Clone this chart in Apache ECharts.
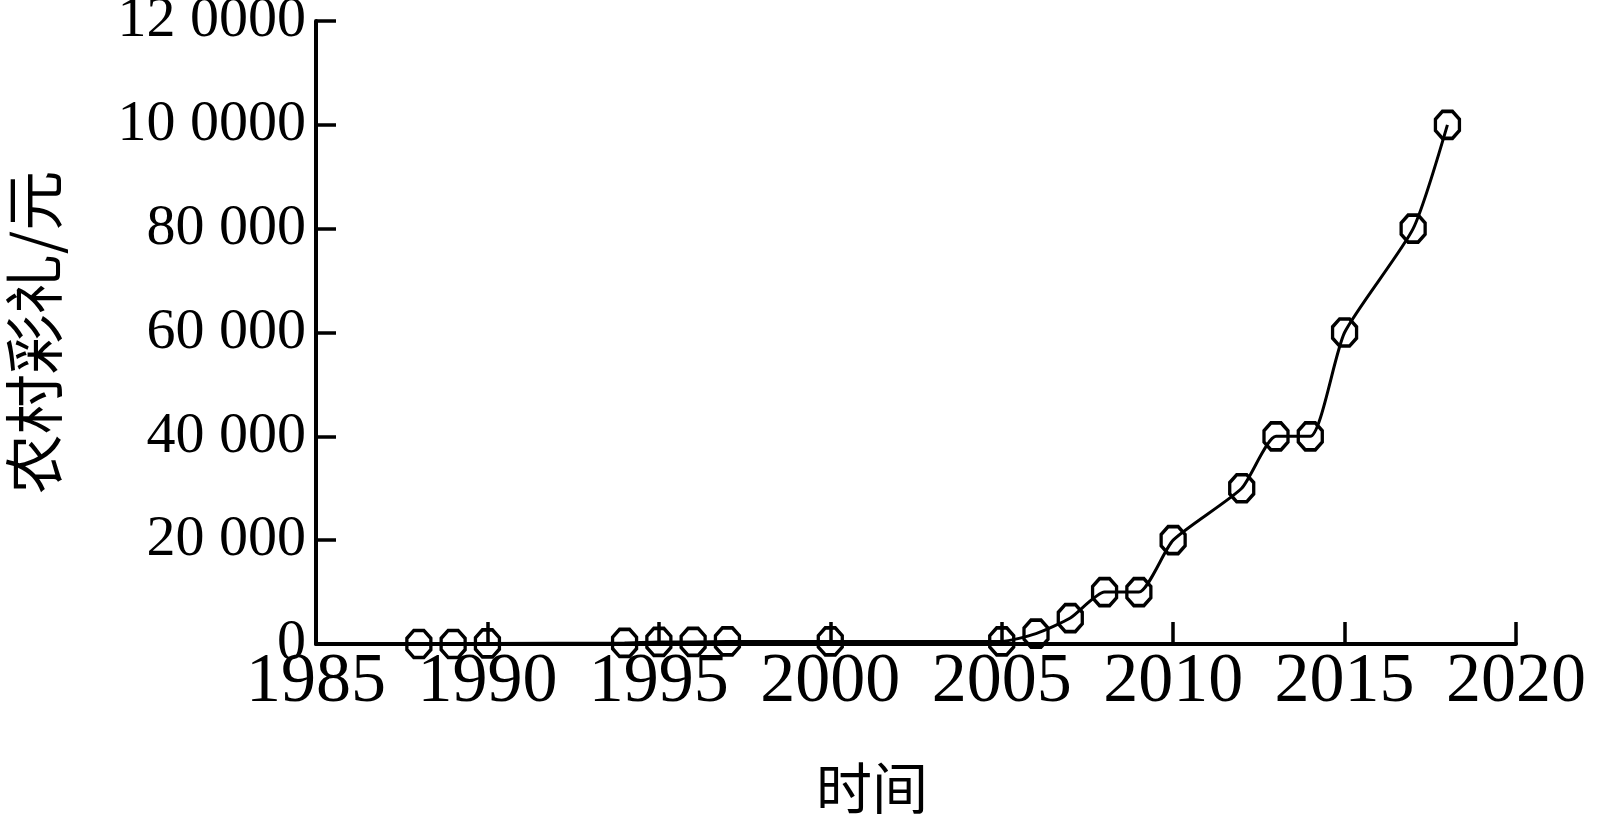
<!DOCTYPE html>
<html>
<head>
<meta charset="utf-8">
<script src="https://cdn.jsdelivr.net/npm/echarts@6/dist/echarts.min.js"></script>
<style>
    html, body { margin: 0; padding: 0; background: #fff; }
    #chart { width: 1608px; height: 820px; }
</style>
</head>
<body>
<div id="chart"></div>
<script>
// 年份与彩礼金额（元）
const years = [1988, 1989, 1990, 1994, 1995, 1996, 1997, 2000, 2005, 2006, 2007, 2008, 2009, 2010, 2012, 2013, 2014, 2015, 2017, 2018];
const brideMoney = [0, 0, 100, 200, 400, 400, 500, 500, 500, 2000, 5000, 10000, 10000, 20000, 30000, 40000, 40000, 60000, 80000, 100000];
// y 轴刻度文字（原图写法）
const yTickLabels = ["0", "20 000", "40 000", "60 000", "80 000", "10 0000", "12 0000"];

const serif = "'Liberation Serif', 'Times New Roman', serif";
const cjk = "'Noto Sans CJK SC', sans-serif";
const octagon = "path://M29 0L71 0L100 29L100 71L71 100L29 100L0 71L0 29Z";

const myChart = echarts.init(document.getElementById("chart"));

const option = {
    backgroundColor: "#fff",
    animation: false,
    grid: {
        left: 316,
        right: 92,
        top: 21,
        bottom: 176,
        containLabel: false,
        outerBoundsMode: "none",
    },
    xAxis: {
        type: "value",
        min: 1985,
        max: 2020,
        interval: 5,
        name: "时间",
        nameLocation: "middle",
        nameGap: 116,
        nameTextStyle: {
            fontFamily: cjk,
            fontSize: 56,
            color: "#000",
            padding: [0, 88, 0, 0],
        },
        axisLine: { lineStyle: { color: "#000", width: 4 } },
        axisTick: { inside: true, length: 22, lineStyle: { color: "#000", width: 3.5 } },
        axisLabel: {
            color: "#000",
            fontFamily: serif,
            fontSize: 70,
            margin: 4,
            formatter: (v) => String(v),
        },
        splitLine: { show: false },
    },
    yAxis: {
        type: "value",
        min: 0,
        max: 120000,
        interval: 20000,
        name: "农村彩礼/元",
        nameLocation: "middle",
        nameGap: 252,
        nameRotate: 90,
        nameTextStyle: {
            fontFamily: cjk,
            fontSize: 60,
            color: "#000",
        },
        axisLine: { show: true, lineStyle: { color: "#000", width: 4 } },
        axisTick: { show: true, inside: true, length: 20, lineStyle: { color: "#000", width: 3.5 } },
        axisLabel: {
            color: "#000",
            fontFamily: serif,
            fontSize: 58,
            margin: 10,
            formatter: (v) => yTickLabels[Math.round(v / 20000)],
        },
        splitLine: { show: false },
    },
    series: [
        {
            type: "line",
            data: years.map((y, i) => [y, brideMoney[i]]),
            smooth: 0.2,
            symbol: octagon,
            symbolSize: [24, 27],
            lineStyle: { color: "#000", width: 3 },
            itemStyle: { color: "rgba(0,0,0,0)", borderColor: "#000", borderWidth: 3.5 },
            z: 3,
        },
    ],
};

myChart.setOption(option);
</script>
</body>
</html>
